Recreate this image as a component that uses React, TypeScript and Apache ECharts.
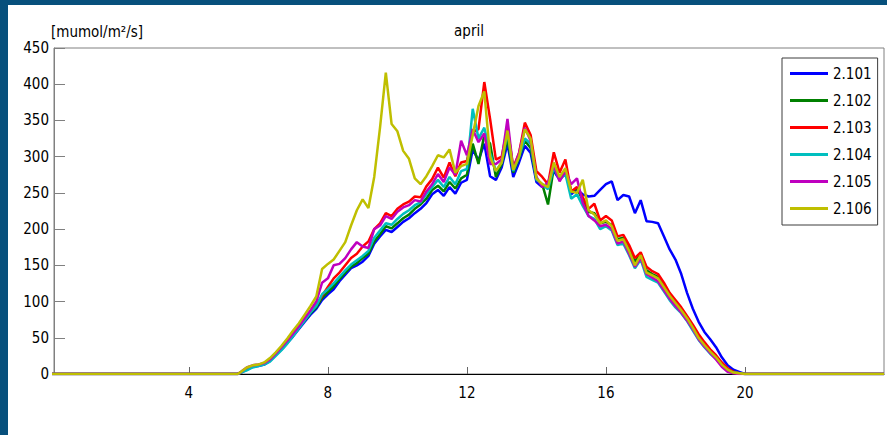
import React, { useEffect, useRef } from 'react';
import * as echarts from 'echarts';

const FONT = "'DejaVu Sans Condensed', 'DejaVu Sans', sans-serif";

const SERIES_NAMES = ['2.101', '2.102', '2.103', '2.104', '2.105', '2.106'];
const COLORS = ['#0000ff', '#008000', '#ff0000', '#00bfbf', '#bf00bf', '#bfbf00'];
const X_TICKS = [4, 8, 12, 16, 20];
const TITLE = 'april';
const Y_UNIT = '[mumol/m²/s]';

// sampling times in hours (10-minute steps, 5:30 .. 20:00)
const TIMES = Array.from({ length: 88 }, (_, i) => +(5.5 + i / 6).toFixed(4));

const V_2101 = [
  2, 6, 10, 11, 13, 18, 26, 34, 43, 52,
  62, 72, 82, 90, 102, 110, 117, 128, 137, 146,
  150, 155, 163, 180, 190, 199, 196, 203, 210, 215,
  222, 228, 236, 248, 254, 246, 258, 249, 264, 268,
  310, 295, 318, 273, 268, 285, 318, 272, 292, 315,
  305, 265, 258, 262, 280, 268, 280, 248, 255, 248,
  245, 246, 254, 262, 266, 240, 247, 245, 222, 240,
  211, 210, 208, 190, 172, 158, 138, 112, 90, 72,
  58, 48, 37, 23, 12, 6, 3, 0,
];
const V_2102 = [
  2, 7, 10, 12, 14, 19, 27, 35, 44, 54,
  64, 74, 84, 92, 105, 113, 121, 131, 140, 148,
  153, 160, 166, 183, 193, 204, 201, 208, 215, 220,
  228, 234, 242, 254, 260, 252, 265, 256, 270, 275,
  318, 290, 330, 318, 272, 290, 326, 278, 298, 322,
  312, 268, 262, 234, 285, 272, 282, 252, 256, 240,
  224, 222, 208, 210, 206, 186, 188, 174, 155, 166,
  143, 138, 134, 122, 108, 98, 89, 78, 65, 51,
  41, 32, 24, 15, 7, 3, 1, 0,
];
const V_2103 = [
  2, 7, 10, 12, 14, 20, 28, 36, 46, 56,
  66, 77, 86, 95, 108, 120, 132, 140, 150, 160,
  166, 176, 183, 200, 208, 222, 218, 228, 234, 238,
  245, 244, 259, 269, 285, 271, 292, 273, 292, 294,
  334, 338, 403, 352, 296, 300, 340, 285, 305, 347,
  330, 280, 272, 262, 306, 278, 296, 252, 258, 244,
  228, 235, 212, 218, 212, 190, 192, 178, 160, 168,
  148, 142, 138, 126, 112, 102, 92, 80, 68, 55,
  44, 34, 26, 16, 8, 3, 1, 0,
];
const V_2104 = [
  2, 5, 9, 11, 13, 17, 25, 33, 42, 52,
  63, 74, 85, 94, 110, 117, 125, 134, 143, 151,
  157, 163, 170, 188, 198, 208, 206, 214, 221, 226,
  233, 237, 248, 258, 268, 258, 272, 262, 280, 283,
  366, 325, 340, 305, 280, 292, 334, 280, 300, 325,
  318, 268, 262, 255, 285, 268, 276, 242, 248, 232,
  218, 214, 200, 204, 198, 178, 180, 164, 146, 158,
  134, 130, 126, 114, 102, 92, 84, 73, 60, 47,
  37, 28, 21, 12, 5, 2, 1, 0,
];
const V_2105 = [
  3, 9, 12, 13, 15, 20, 28, 37, 46, 56,
  66, 77, 88, 100, 126, 132, 150, 152, 160, 172,
  182, 176, 174, 200, 205, 218, 214, 224, 230, 233,
  240, 238, 252, 262, 276, 265, 285, 275, 322, 302,
  338, 320, 332, 290, 290, 296, 352, 282, 305, 340,
  322, 272, 258, 264, 288, 266, 280, 262, 270, 236,
  218, 212, 204, 206, 200, 180, 183, 166, 148, 160,
  138, 133, 128, 116, 104, 94, 85, 74, 62, 48,
  38, 29, 20, 10, 3, 1, 0, 0,
];
const V_2106 = [
  3, 9, 12, 13, 16, 22, 30, 39, 49, 60,
  70, 82, 94, 107, 145, 152, 158, 170, 182, 205,
  226, 241, 229, 272, 340, 416, 345, 335, 308, 297,
  270, 262, 273, 287, 302, 299, 310, 278, 287, 290,
  330, 370, 390, 300, 280, 292, 336, 282, 300, 338,
  325, 270, 262, 258, 292, 272, 284, 252, 250, 268,
  226, 220, 208, 212, 204, 184, 186, 170, 150, 164,
  140, 136, 132, 120, 108, 98, 88, 77, 64, 50,
  40, 31, 23, 13, 6, 2, 1, 0,
];

const VALUES = [V_2101, V_2102, V_2103, V_2104, V_2105, V_2106];

function buildData(vals: number[]) {
  const pts: number[][] = [[0, 0], [5.4, 0]];
  TIMES.forEach((t, i) => pts.push([t, vals[i]]));
  pts.push([24, 0]);
  return pts;
}

export default function App() {
  const ref = useRef<HTMLDivElement>(null);

  useEffect(() => {
    if (!ref.current) return;
    const chart = echarts.init(ref.current, undefined, { renderer: 'svg' });
    const option: any = {
      animation: false,
      backgroundColor: '#ffffff',
      grid: {
        left: 54,
        right: 3,
        top: 48,
        bottom: 61,
        show: true,
        borderColor: '#808080',
        borderWidth: 1,
      },
      xAxis: {
        type: 'value',
        min: 0.12,
        max: 24,
        axisLine: { show: true, onZero: false, lineStyle: { color: '#000', width: 1 } },
        axisTick: {
          show: true,
          inside: true,
          length: 7,
          customValues: X_TICKS,
          lineStyle: { color: '#666' },
        },
        axisLabel: {
          customValues: X_TICKS,
          color: '#000',
          fontSize: 15,
          fontFamily: FONT,
          margin: 11,
        },
        splitLine: { show: false },
      },
      yAxis: {
        type: 'value',
        min: 0,
        max: 450,
        interval: 50,
        axisLine: { show: true, lineStyle: { color: '#808080', width: 1 } },
        axisTick: { show: true, inside: true, length: 11, lineStyle: { color: '#808080' } },
        axisLabel: { color: '#000', fontSize: 15, fontFamily: FONT, margin: 5 },
        splitLine: { show: false },
      },
      legend: {
        data: SERIES_NAMES,
        orient: 'vertical',
        left: 782,
        top: 58,
        padding: [8, 6, 9, 8],
        itemGap: 12,
        itemWidth: 38,
        itemHeight: 14,
        icon: 'path://M0,0 L38,0 L38,3 L0,3 Z',
        borderColor: '#3c3c3c',
        borderWidth: 1,
        borderRadius: 0,
        backgroundColor: '#ffffff',
        selectedMode: false,
        textStyle: { fontSize: 15, fontFamily: FONT, color: '#000' },
      },
      graphic: [
        { type: 'rect', left: 0, top: 0, shape: { x: 0, y: 0, width: 8, height: 435 }, style: { fill: '#07507c' }, z: 100 },
        { type: 'rect', left: 0, top: 0, shape: { x: 0, y: 0, width: 887, height: 5 }, style: { fill: '#07507c' }, z: 100 },
        {
          type: 'text',
          x: 469,
          y: 31,
          style: { text: TITLE, textAlign: 'center', textVerticalAlign: 'middle', font: `15px ${FONT}`, fill: '#000' },
        },
        {
          type: 'text',
          x: 51,
          y: 32,
          style: { text: Y_UNIT, textAlign: 'left', textVerticalAlign: 'middle', font: `15px ${FONT}`, fill: '#000' },
        },
      ],
      series: SERIES_NAMES.map((name, k) => ({
        name,
        type: 'line',
        data: buildData(VALUES[k]),
        showSymbol: false,
        symbol: 'none',
        color: COLORS[k],
        lineStyle: { color: COLORS[k], width: 2.5 },
        clip: true,
        silent: true,
      })),
    };
    chart.setOption(option);
    return () => chart.dispose();
  }, []);

  return (
    <div
      ref={ref}
      style={{ position: 'fixed', left: 0, top: 0, width: 887, height: 435, background: '#fff' }}
    />
  );
}
